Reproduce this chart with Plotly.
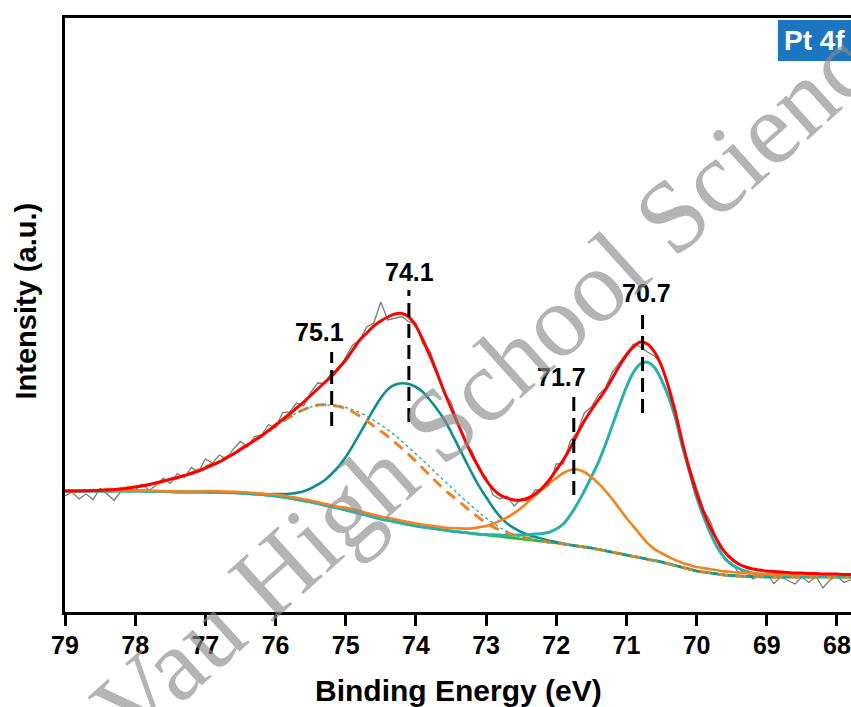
import numpy as np
import plotly.graph_objects as go

# ---------------- data (binding energy grid, 0.1 eV step, 79.0 -> 67.8) ----------------
energy = np.round(np.arange(79.0, 67.75, -0.1), 1)

raw_counts = [
    116, 120, 113, 118, 112.5, 123.5, 118, 111.5, 121, 125,
    122, 128, 121.5, 127, 134, 128.5, 138.5, 134.5, 144.5, 140,
    153, 149, 157, 153, 163, 170.5, 165, 175.5, 177, 187.5,
    184, 199.5, 200, 209, 206, 219.5, 229, 228.5, 240, 242,
    255, 267, 272, 285, 289, 310, 292, 294, 295.5, 290,
    289, 268, 261, 242, 219, 210, 190, 169, 161, 142,
    135, 117, 113, 116, 106, 113, 111, 122, 122, 127,
    148, 148, 171, 180, 199, 205, 217, 224, 240, 249,
    258, 268, 265, 260, 256, 248, 224, 202, 167, 146,
    124, 102, 90, 69, 52, 49, 39, 42, 33, 36,
    39, 28.5, 35, 31.5, 28, 35, 29.5, 35.5, 24, 32,
    36, 29.5, 32.5,
]

envelope = [
    121, 121, 121, 121.2, 121.5, 121.7, 122, 122.5, 123, 124,
    125, 126.2, 127.5, 129.2, 131, 132.7, 134.5, 136.5, 138.5, 141,
    144, 147, 150, 154, 158, 162.5, 167, 171.5, 176, 181.5,
    187, 192.5, 198, 204, 210, 216.5, 223, 229.5, 236, 244,
    252, 262, 272, 279, 286, 291, 295, 298, 298.5, 295,
    286, 272, 256, 239, 221, 204, 188, 172, 157, 144,
    132, 123, 117, 114, 112, 112, 114, 118, 124, 132,
    142, 152, 164, 178, 191, 202, 212, 222, 234, 246,
    257, 265, 270, 268, 260, 246, 225, 199, 169, 142,
    119, 100, 84, 71, 60, 53, 48, 45, 43, 42,
    41, 40.5, 40, 39.5, 39, 39, 38.5, 38.5, 38, 38,
    38, 37.5, 37.5,
]

background = ([121] * 12 + [120.8, 120.6, 120.4, 120.2] + [120] * 5 + [
    119.8, 119.6, 119.4, 119.2, 119, 118.5, 118, 117.4, 116.7, 116,
    115, 113.8, 112.6, 111.3, 110, 108.4, 106.8, 105.2, 103.6, 102,
    100.2, 98.4, 96.6, 94.8, 93, 91.6, 90.2, 88.8, 87.4, 86,
    85, 84, 83, 82, 81, 80.2, 79.4, 78.6, 77.8, 77,
    76.2, 75.4, 74.6, 73.8, 73, 72.2, 71.4, 70.6, 69.8, 69,
    68, 67, 66, 65, 64, 62.6, 61.2, 59.8, 58.4, 57,
    55.6, 54.2, 52.8, 51.4, 50, 48.2, 46.4, 44.6, 42.8, 41,
    40, 39, 38, 37, 36.5, 36, 35.7, 35.4, 35.2, 35,
] + [35] * 12)

# net peak heights above the background
peak_751 = [0, 0, 0.3, 0.5, 0.7,
            1, 1.5, 2, 2.5, 3, 4, 5, 6.5, 8, 10,
            12, 14, 16.5, 19, 22, 25, 28.5, 32, 35.5, 39.5,
            44, 49, 54, 59, 64.5, 70, 75.5, 81, 86.5, 91,
            95, 98.5, 100.5, 101.5, 102, 101.5, 100, 97.5, 94.5, 91,
            88, 84, 79.5, 75, 70, 64.5, 58.5, 52.5, 46.5, 41,
            36, 31, 26, 21, 16.5, 12, 9, 6.5, 4.5, 3,
            2, 1.5, 1, 0.5] + [0] * 44

peak_751_alt = [0, 0, 0.3, 0.5, 0.7,
                1, 1.5, 2, 2.5, 3, 4, 5, 6.5, 8, 10,
                12, 14, 16.5, 19, 22, 25, 28.5, 32, 35.5, 39.5,
                44, 49, 54, 59, 64.5, 70, 75.5, 81, 86.5, 91,
                95, 98.5, 100.5, 101.5, 102.5, 102.5, 102, 101, 99.5, 97,
                94, 90.5, 86.5, 82, 77, 72, 66.5, 61, 55, 49.5,
                44, 38, 32.5, 27, 22, 17, 13, 9, 6, 3.5,
                2, 1.5, 1, 0.5] + [0] * 44

peak_741 = [0] * 28 + [
    0.5, 1, 2, 3, 4.5, 6.5, 9.5, 13.5, 19, 25,
    33, 42, 53, 66, 80, 94, 108, 121, 131, 137,
    140, 140.5, 139, 135, 128, 120, 111, 99, 86, 73,
    60, 48, 38, 28, 20, 14, 10, 7, 5, 3.5,
    2.5, 1.5, 1, 0.5] + [0] * 41

peak_717 = [0.5] * 20 + [1] * 10 + [1.5] * 10 + [2.5] * 15 + [
    3, 3.5, 4, 5, 7, 9, 12, 16, 20, 25,
    31, 38, 45, 52, 59, 65, 71, 75, 76.5, 75,
    71, 66, 60, 53, 45, 37, 30, 23, 16, 11.5,
    9, 7, 5.5, 4.5, 4.2, 4,
    3.9, 3.8, 3.7, 3.6, 3.5, 3.4, 3.3, 3.2, 3.1, 3.0,
    2.9, 2.8, 2.7, 2.6, 2.5, 2.4, 2.3, 2.2, 2.2, 2.1, 2.1, 2.0]

peak_707 = [0] * 60 + [
    0.5, 1, 1.5, 2, 3, 4, 5, 6.5, 8, 10,
    14, 20, 30, 42, 56, 71, 87, 106, 127, 148,
    168, 184, 194, 197, 193, 182, 167, 147, 120, 97,
    74, 55, 39, 26, 17, 11, 7.5, 5, 3.5, 2.5,
    2, 1.5, 1.2, 1, 0.8, 0.7, 0.6, 0.5, 0.5, 0.4,
    0.4, 0.3, 0.3]

# peak position markers
marker_energy = [75.2, 74.1, 71.75, 70.77]
marker_low = [186, 190, 117, 199]
marker_high = [260, 322, 219, 297]
label_text = ["75.1", "74.1", "71.7", "70.7"]
label_energy = [75.37, 74.09, 71.92, 70.72]
label_level = [280, 340, 235, 319]

x_ticks = [79, 78, 77, 76, 75, 74, 73, 72, 71, 70, 69, 68]

# ---------------- figure ----------------
bg = np.array(background)
FONT = "Liberation Sans, Arial, sans-serif"
ORANGE = "#f5821f"

fig = go.Figure()

fig.add_trace(go.Scatter(x=energy, y=raw_counts, mode="lines",
                         line=dict(color="#7a7a7a", width=1.3)))
fig.add_trace(go.Scatter(x=energy, y=bg, mode="lines", line_shape="spline",
                         line=dict(color="#10c810", width=2.5)))
fig.add_trace(go.Scatter(x=energy, y=bg + np.array(peak_741), mode="lines", line_shape="spline",
                         line=dict(color="#0e8f8c", width=2.6)))
fig.add_trace(go.Scatter(x=energy, y=bg + np.array(peak_707), mode="lines", line_shape="spline",
                         line=dict(color="#2ab0ac", width=3)))
fig.add_trace(go.Scatter(x=energy, y=bg + np.array(peak_717), mode="lines", line_shape="spline",
                         line=dict(color=ORANGE, width=2.6)))
fig.add_trace(go.Scatter(x=energy, y=bg + np.array(peak_751), mode="lines", line_shape="spline",
                         line=dict(color=ORANGE, width=3, dash="11px,7px")))
fig.add_trace(go.Scatter(x=energy, y=bg + np.array(peak_751_alt), mode="lines", line_shape="spline",
                         line=dict(color="#20aaa6", width=1.3, dash="dot")))
fig.add_trace(go.Scatter(x=energy, y=envelope, mode="lines", line_shape="spline",
                         line=dict(color="#ff0000", width=3)))

for e, lo, hi in zip(marker_energy, marker_low, marker_high):
    fig.add_trace(go.Scatter(x=[e, e], y=[lo, hi], mode="lines",
                             line=dict(color="black", width=3, dash="14px,7px")))

annotations = []
for t, e, lv in zip(label_text, label_energy, label_level):
    annotations.append(dict(x=e, y=lv, xref="x", yref="y", text=t, showarrow=False,
                            font=dict(family=FONT, size=25, color="black", weight="bold")))

# axis titles
annotations.append(dict(x=0.5, y=-0.132, xref="paper", yref="paper", text="Binding Energy (eV)",
                        showarrow=False, xanchor="center", yanchor="middle",
                        font=dict(family=FONT, size=30, color="black", weight="bold")))
annotations.append(dict(x=-0.05, y=0.524, xref="paper", yref="paper", text="Intensity (a.u.)",
                        showarrow=False, textangle=-90, xanchor="center", yanchor="middle",
                        font=dict(family=FONT, size=29, color="black", weight="bold")))
# sample label
annotations.append(dict(x=0.9535, y=0.962, xref="paper", yref="paper", text="Pt 4f",
                        showarrow=False, xanchor="center", yanchor="middle",
                        font=dict(family=FONT, size=28, color="white", weight="bold")))
# watermark
annotations.append(dict(x=0.552, y=0.405, xref="paper", yref="paper", text="Vau High School Science",
                        showarrow=False, textangle=-42, xanchor="center", yanchor="middle",
                        font=dict(family="Liberation Serif, serif", size=103,
                                  color="rgba(140,140,140,0.65)")))

fig.update_layout(
    width=851, height=707,
    margin=dict(l=65, r=0, t=18, b=95),
    paper_bgcolor="white", plot_bgcolor="white",
    showlegend=False,
    annotations=annotations,
    shapes=[dict(type="rect", xref="paper", yref="paper", x0=0.907, x1=1.0, y0=0.9276, y1=0.9966,
                 fillcolor="#1b76bf", line=dict(width=0), layer="above")],
)
fig.update_xaxes(range=[79, 67.8], tickvals=x_ticks, ticks="outside", ticklen=11, tickwidth=2.5,
                 tickcolor="black", showline=True, linewidth=3, linecolor="black", mirror=True,
                 showgrid=False, zeroline=False, ticklabelstandoff=-2,
                 tickfont=dict(family=FONT, size=25, color="black", weight="bold"))
fig.update_yaxes(range=[0, 594], showticklabels=False, ticks="", showline=True, linewidth=3,
                 linecolor="black", mirror=False, showgrid=False, zeroline=False)

fig.write_html("out.html")
